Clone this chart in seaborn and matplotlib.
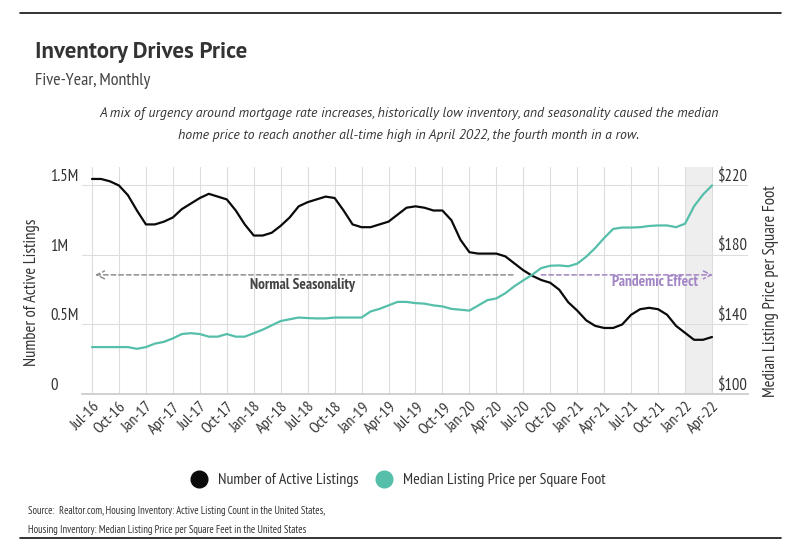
import matplotlib
matplotlib.use("Agg")
import matplotlib.pyplot as plt
import seaborn as sns
import pandas as pd
from matplotlib.lines import Line2D

# Monthly data, Jul-16 .. Apr-22
months = list(range(70))
listings = [
    1.547, 1.547, 1.53, 1.50, 1.43, 1.32,
    1.22, 1.22, 1.24, 1.27, 1.33, 1.37, 1.41, 1.44, 1.42, 1.40, 1.32, 1.22,
    1.14, 1.14, 1.16, 1.21, 1.27, 1.35, 1.38, 1.40, 1.42, 1.41, 1.32, 1.22,
    1.20, 1.20, 1.22, 1.24, 1.29, 1.34, 1.35, 1.34, 1.32, 1.32, 1.25, 1.11,
    1.02, 1.01, 1.01, 1.01, 0.99, 0.94, 0.89, 0.85, 0.82, 0.80, 0.75, 0.66,
    0.60, 0.53, 0.49, 0.475, 0.475, 0.50, 0.57, 0.61, 0.62, 0.61, 0.57, 0.49,
    0.44, 0.39, 0.39, 0.41,
]
price = [
    127, 127, 127, 127, 127, 126,
    127, 129, 130, 132, 134.5, 135, 134.5, 133, 133, 134.5, 133, 133,
    135, 137, 139.5, 142, 143, 144, 143.7, 143.5, 143.5, 144, 144, 144,
    144, 147.5, 149, 151, 153, 153, 152.3, 152, 151, 150.4, 149, 148.5,
    148, 151, 154, 155, 158, 162, 165.4, 168.7, 172.5, 173.8, 174, 173.5,
    175, 179, 184, 189.8, 195, 195.8, 195.8, 196, 196.7, 197, 197, 196,
    198, 208, 214.8, 220,
]
tick_pos = list(range(0, 70, 3))
tick_labels = ["Jul-16", "Oct-16", "Jan-17", "Apr-17", "Jul-17", "Oct-17",
               "Jan-18", "Apr-18", "Jul-18", "Oct-18", "Jan-19", "Apr-19",
               "Jul-19", "Oct-19", "Jan-20", "Apr-20", "Jul-20", "Oct-20",
               "Jan-21", "Apr-21", "Jul-21", "Oct-21", "Jan-22", "Apr-22"]
left_ticks = [0, 0.5, 1.0, 1.5]
left_labels = ["0", "0.5M", "1M", "1.5M"]
right_ticks = [100, 140, 180, 220]
right_labels = ["$100", "$140", "$180", "$220"]

df = pd.DataFrame({"month": months, "listings": listings, "price": price})

sns.set_theme(style="white")
NARROW = ["PT Sans Narrow", "DejaVu Sans"]
WIDE = ["PT Sans", "DejaVu Sans"]
plt.rcParams["font.family"] = NARROW

BLACK = "#0a0a0a"
TEAL = "#55bfa9"
GRID = "#dddddd"
TXT = "#333333"
PURPLE = "#a285c4"

fig = plt.figure(figsize=(8, 5.51), dpi=100)
ax = fig.add_axes([82 / 800, 1 - 394 / 551, 666 / 800, (394 - 167) / 551])

# highlight last months
ax.axvspan(66, 69, color="#eeeeee", zorder=0, lw=0)

sns.lineplot(data=df, x="month", y="listings", ax=ax, color=BLACK, lw=1.6, zorder=3)
ax.set_xlim(-1.113, 73.006)
ax.set_ylim(0, 1.633)

ax2 = ax.twinx()
sns.lineplot(data=df, x="month", y="price", ax=ax2, color=TEAL, lw=1.6, zorder=3)
ax2.set_ylim(100, 100 + 1.633 / 1.5 * 120)
ax2.set_xlim(-1.113, 73.006)

ax.set_xticks(tick_pos)
ax.set_xticklabels(tick_labels, rotation=45, ha="right", rotation_mode="anchor",
                   fontsize=11.5, color=TXT)
ax.tick_params(axis="x", length=0, pad=4)
ax.xaxis.grid(True, color=GRID, lw=0.8)
ax.yaxis.grid(True, color=GRID, lw=0.8)
ax.set_axisbelow(True)

ax.set_yticks(left_ticks)
ax.set_yticklabels(left_labels, fontsize=12, color=TXT)
ax.tick_params(axis="y", length=0, pad=23)
for lab in ax.get_yticklabels():
    lab.set_ha("left")
    lab.set_va("bottom")

ax2.set_yticks(right_ticks)
ax2.set_yticklabels(right_labels, fontsize=12, color=TXT)
ax2.tick_params(axis="y", length=0, pad=0)
for lab in ax2.get_yticklabels():
    lab.set_ha("right")
    lab.set_va("bottom")
ax2.grid(False)

for a in (ax, ax2):
    for s in ["top", "left", "right"]:
        a.spines[s].set_visible(False)
    a.spines["bottom"].set_color("#cccccc")
ax2.spines["bottom"].set_visible(False)

ax.set_xlabel("")
ax.set_ylabel("Number of Active Listings", fontsize=12, color=TXT)
ax.yaxis.set_label_coords(-0.063, 0.45)
ax2.set_ylabel("Median Listing Price per Square Foot", fontsize=12, color=TXT, rotation=90)
ax2.yaxis.set_label_coords(1.0225, 0.455)

# annotation arrows
ax.annotate("", xy=(0.33, 0.857), xytext=(46.85, 0.857),
            arrowprops=dict(arrowstyle="->", color="#8f8f8f", ls=(0, (3, 2)), lw=1.1,
                            shrinkA=0, shrinkB=0, mutation_scale=14), zorder=2)
ax.text(23.4, 0.783, "Normal Seasonality", ha="center", va="center",
        fontsize=11, fontweight="bold", color="#444444")
ax.annotate("", xy=(69.1, 0.857), xytext=(50.0, 0.857),
            arrowprops=dict(arrowstyle="->", color=PURPLE, ls=(0, (3, 2)), lw=1.1,
                            shrinkA=0, shrinkB=0, mutation_scale=14), zorder=2)
ax.text(62.7, 0.808, "Pandemic Effect", ha="center", va="center",
        fontsize=11, fontweight="bold", color=PURPLE)

# titles
fig.text(35 / 800, 1 - 53 / 551, "Inventory Drives Price", fontsize=16.5, fontweight="bold",
         color=TXT, va="center", family=WIDE)
fig.text(35 / 800, 1 - 81 / 551, "Five-Year, Monthly", fontsize=13, color="#444444", va="center")
fig.text(409 / 800, 1 - 113 / 551,
         "A mix of urgency around mortgage rate increases, historically low inventory, and seasonality caused the median",
         fontsize=9.9, style="italic", color=TXT, ha="center", va="center", family=WIDE)
fig.text(409 / 800, 1 - 135 / 551,
         "home price to reach another all-time high in April 2022, the fourth month in a row.",
         fontsize=9.9, style="italic", color=TXT, ha="center", va="center", family=WIDE)

# legend
handles = [Line2D([], [], marker="o", ls="", color=BLACK, markersize=12),
           Line2D([], [], marker="o", ls="", color=TEAL, markersize=12)]
fig.legend(handles, ["Number of Active Listings", "Median Listing Price per Square Foot"],
           loc="center", bbox_to_anchor=(394 / 800, 1 - 480 / 551), ncol=2, frameon=False,
           fontsize=11.4, handletextpad=0.2, columnspacing=0.6, labelcolor=TXT)

# source
fig.text(28 / 800, 1 - 511 / 551,
         "Source:  Realtor.com, Housing Inventory: Active Listing Count in the United States,",
         fontsize=7.6, color=TXT, va="center")
fig.text(28 / 800, 1 - 530 / 551,
         "Housing Inventory: Median Listing Price per Square Feet in the United States",
         fontsize=7.6, color=TXT, va="center")

# rules
fig.add_artist(Line2D([20 / 800, 781 / 800], [1 - 13 / 551] * 2, color="#111111", lw=1.2))
fig.add_artist(Line2D([20 / 800, 781 / 800], [1 - 538 / 551] * 2, color="#111111", lw=1.2))

fig.savefig("out.png", dpi=100, facecolor="white")
